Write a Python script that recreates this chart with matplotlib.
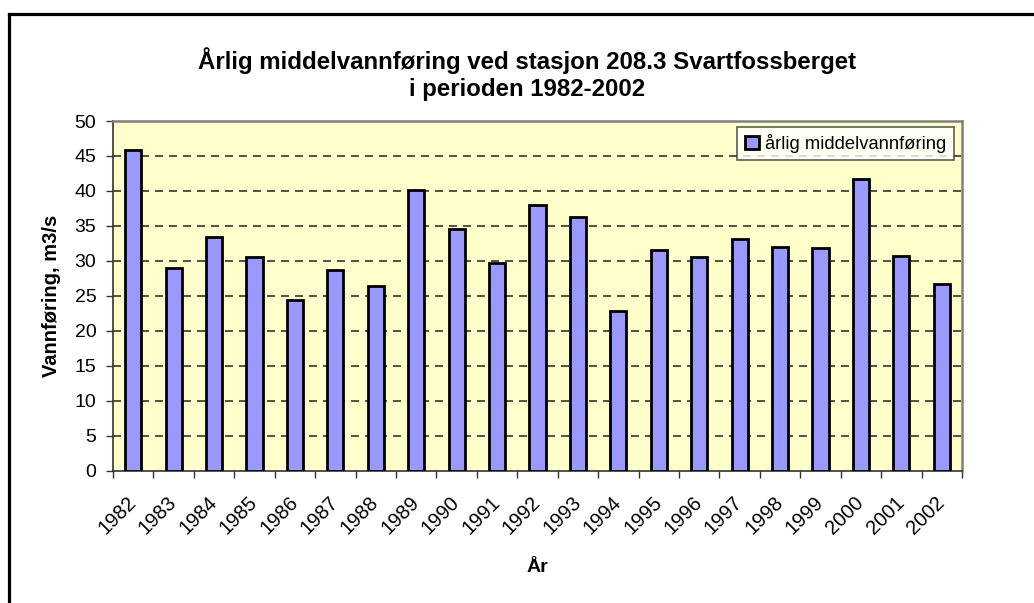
import matplotlib
matplotlib.use('Agg')
import matplotlib.pyplot as plt
from matplotlib.lines import Line2D

plt.rcParams['font.family'] = ['Liberation Sans', 'DejaVu Sans']

years = [str(y) for y in range(1982, 2003)]
flow = [45.8, 29.0, 33.4, 30.5, 24.4, 28.7, 26.4, 40.2, 34.5, 29.7, 38.0,
        36.3, 22.8, 31.5, 30.6, 33.1, 32.0, 31.8, 41.7, 30.7, 26.7]
yticks = list(range(0, 51, 5))
title = 'Årlig middelvannføring ved stasjon 208.3 Svartfossberget\ni perioden 1982-2002'
series_name = 'årlig middelvannføring'

fig = plt.figure(figsize=(10.34, 6.03), dpi=100)
ax = fig.add_axes([113 / 1034, 1 - 470.7 / 603, (962 - 113) / 1034, (470.7 - 121) / 603])
ax.set_facecolor('#FFFFCC')

x = list(range(len(years)))
ax.bar(x, flow, width=0.4, color='#9999FF', edgecolor='black', linewidth=2.0,
       label=series_name, zorder=3)

ax.set_xlim(-0.5, len(years) - 0.5)
ax.set_ylim(0, 50)
ax.set_yticks(yticks)
ax.set_yticklabels([str(v) for v in yticks], fontsize=14)
for v in yticks[1:-1]:
    ax.axhline(v, color='#333333', linewidth=1.2, dashes=(4.8, 3.6), zorder=1)

ax.set_xticks(x)
ax.set_xticklabels(years, fontsize=14.5, rotation=45, ha='right', va='center',
                   rotation_mode='anchor')
ax.set_xticks([i - 0.5 for i in range(len(years) + 1)], minor=True)
ax.tick_params(axis='x', which='major', length=0, pad=21)
ax.tick_params(axis='x', which='minor', length=5, width=1, color='#333333')
ax.tick_params(axis='y', length=5, width=1, color='#333333', pad=7)

for side in ['top', 'right']:
    ax.spines[side].set_color('#808080')
    ax.spines[side].set_linewidth(1.8)
for side in ['left', 'bottom']:
    ax.spines[side].set_color('#333333')
    ax.spines[side].set_linewidth(1.2)

ax.set_ylabel('Vannføring, m3/s', fontsize=14.5, fontweight='bold', labelpad=10)
ax.set_xlabel('År', fontsize=14, fontweight='bold')
ax.xaxis.set_label_coords(0.5, -0.252)

fig.text(527 / 1034, 1 - 74 / 603, title, ha='center', va='center',
         fontsize=17.3, fontweight='bold', linespacing=1.2)

leg = ax.legend(loc='upper right', fontsize=13.2, frameon=True, fancybox=False,
                handlelength=0.75, handleheight=0.75, handletextpad=0.35,
                borderpad=0.4, borderaxespad=0, bbox_to_anchor=(0.990, 0.984))
leg.get_frame().set_edgecolor('#333333')
leg.get_frame().set_linewidth(1.2)

# outer frame: only top and left edges are inside the picture
fx = 8.5 / 1034
fy = 1 - 13.5 / 603
fig.add_artist(Line2D([fx, 1.0], [fy, fy], color='black', linewidth=2.3,
                      transform=fig.transFigure))
fig.add_artist(Line2D([fx, fx], [0.0, fy], color='black', linewidth=2.3,
                      transform=fig.transFigure))

fig.savefig('out.png', dpi=100)
